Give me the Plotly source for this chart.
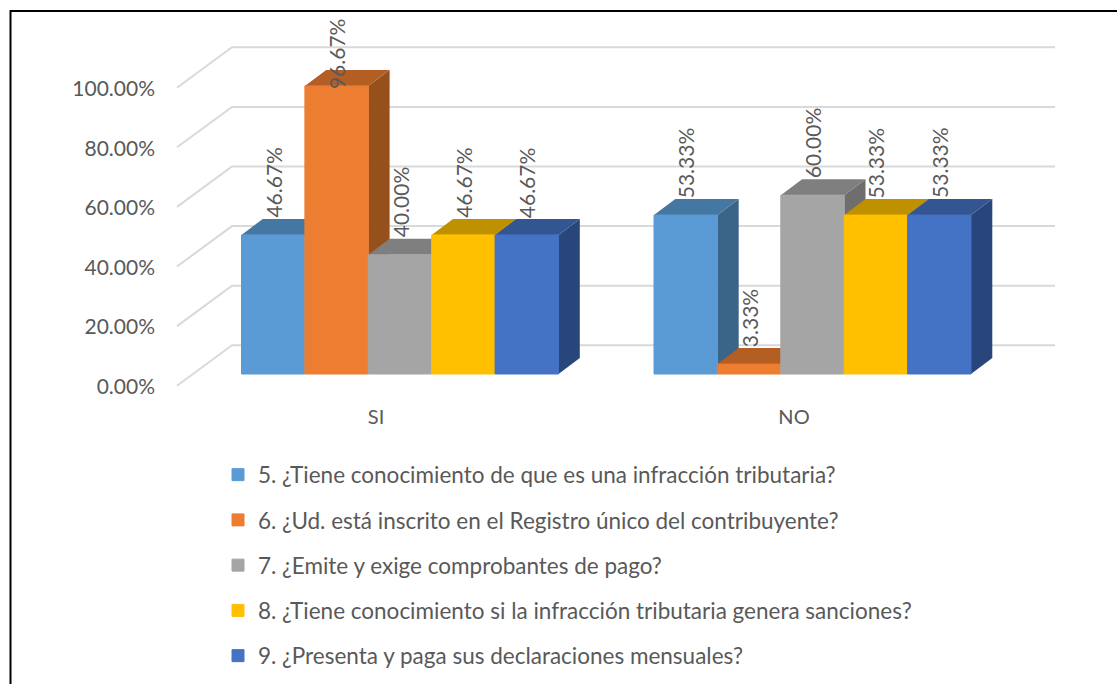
import plotly.graph_objects as go

categories = ["SI", "NO"]
q5 = [46.67, 53.33]
q6 = [96.67, 3.33]
q7 = [40.00, 60.00]
q8 = [46.67, 53.33]
q9 = [46.67, 53.33]
series_values = [q5, q6, q7, q8, q9]
series_names = [
    "5. ¿Tiene conocimiento de que es una infracción tributaria?",
    "6. ¿Ud. está inscrito en el Registro único del contribuyente?",
    "7. ¿Emite y exige comprobantes de pago?",
    "8. ¿Tiene conocimiento si la infracción tributaria genera sanciones?",
    "9. ¿Presenta y paga sus declaraciones mensuales?",
]
front_colors = ["#5B9BD5", "#ED7D31", "#A5A5A5", "#FFC000", "#4472C4"]
top_colors = ["#4577A3", "#B55E24", "#7F7F7F", "#BF9000", "#335693"]
side_colors = ["#3A6588", "#96501C", "#6E6E6E", "#A07800", "#29467C"]
y_ticks = [0, 20, 40, 60, 80, 100]

W, H = 1117, 684
FONT = "Lato"
TXT = "#595959"
PX_X = 412.5      # px per category step
PX_Y = 2.98       # px per percent
X0, Y0 = 400.0, 374.0   # px of first group centre and of the 0% bar base

bar_w = 63.4 / PX_X
depth_x = 21.3 / PX_X
depth_y = 16.0 / PX_Y
x_range = [(0 - X0) / PX_X, (W - X0) / PX_X]
y_range = [(Y0 - H) / PX_Y, Y0 / PX_Y]

wall_x0, wall_x1 = (232 - X0) / PX_X, (1055 - X0) / PX_X
front_x0 = (177 - X0) / PX_X
wall_dy = 28.7 / PX_Y
front_dy = -11.7 / PX_Y
label_cap = 95.3

fig = go.Figure()

# back wall gridlines and left-side diagonals
for t in y_ticks:
    fig.add_trace(go.Scatter(
        x=[front_x0, wall_x0, wall_x1],
        y=[t + front_dy, t + wall_dy, t + wall_dy],
        mode="lines", line=dict(color="#D9D9D9", width=2),
        showlegend=False, hoverinfo="skip"))

# tops and sides, left to right
annotations = []
for g in range(len(categories)):
    for i, vals in enumerate(series_values):
        v = vals[g]
        l = g + (i - 2.5) * bar_w
        r = l + bar_w
        fig.add_trace(go.Scatter(
            x=[r, r + depth_x, r + depth_x, r, r],
            y=[0, depth_y, v + depth_y, v, 0],
            mode="lines", fill="toself", fillcolor=side_colors[i],
            line=dict(width=0), showlegend=False, hoverinfo="skip"))
        fig.add_trace(go.Scatter(
            x=[l, l + depth_x, r + depth_x, r, l],
            y=[v, v + depth_y, v + depth_y, v, v],
            mode="lines", fill="toself", fillcolor=top_colors[i],
            line=dict(width=0), showlegend=False, hoverinfo="skip"))
        annotations.append(dict(
            x=(l + r) / 2, y=min(v + depth_y, label_cap), xref="x", yref="y",
            text=f"{v:.2f}%", textangle=-90, showarrow=False,
            xanchor="center", yanchor="bottom", borderpad=0,
            font=dict(family=FONT, size=21, color=TXT)))

# front faces
for i, vals in enumerate(series_values):
    fig.add_trace(go.Bar(
        x=list(range(len(categories))), y=vals, name=series_names[i],
        width=bar_w, offset=(i - 2.5) * bar_w,
        marker=dict(color=front_colors[i], line=dict(width=1, color=front_colors[i])),
        xaxis="x2", yaxis="y2", legendgroup=f"g{i}"))

# axis that carries the tick labels (front plane of the chart)
fig.add_trace(go.Scatter(x=[0, 1], y=[0, 100], mode="none", showlegend=False,
                         hoverinfo="skip", xaxis="x3", yaxis="y3"))

lab_x0, lab_x1 = 376.0, 794.0
lab_step = lab_x1 - lab_x0
lab_y0 = 386.5
lab_py = 2.975

hidden = dict(visible=False, fixedrange=True)
fig.update_layout(
    width=W, height=H, autosize=False,
    margin=dict(l=0, r=0, t=0, b=0, pad=0),
    paper_bgcolor="white", plot_bgcolor="white",
    barmode="overlay",
    xaxis=dict(range=x_range, domain=[0, 1], **hidden),
    yaxis=dict(range=y_range, domain=[0, 1], **hidden),
    xaxis2=dict(range=x_range, overlaying="x", anchor="y2", **hidden),
    yaxis2=dict(range=y_range, overlaying="y", anchor="x2", **hidden),
    xaxis3=dict(
        range=[(0 - lab_x0) / lab_step, (W - lab_x0) / lab_step],
        overlaying="x", anchor="free", position=1 - 403 / H, side="bottom",
        tickmode="array", tickvals=[0, 1], ticktext=categories,
        showgrid=False, zeroline=False, showline=False, ticks="",
        tickfont=dict(family=FONT, size=20, color=TXT)),
    yaxis3=dict(
        range=[(lab_y0 - H) / lab_py, lab_y0 / lab_py],
        overlaying="y", anchor="free", position=155 / W, side="left",
        tickmode="array", tickvals=y_ticks,
        ticktext=[f"{t:.2f}%" for t in y_ticks],
        showgrid=False, zeroline=False, showline=False, ticks="",
        tickfont=dict(family=FONT, size=21, color=TXT)),
    legend=dict(x=218 / W, y=1 - 677.5 / H, xanchor="left", yanchor="bottom",
                tracegroupgap=13, bgcolor="rgba(0,0,0,0)",
                font=dict(family=FONT, size=22.5, color=TXT)),
    annotations=annotations,
    shapes=[dict(type="path", xref="paper", yref="paper",
                 path=f"M {10.5/W} 0 L {10.5/W} {1-11/H} L 1 {1-11/H}",
                 line=dict(color="black", width=2))],
)
fig.write_html("out.html", config={"displayModeBar": False},
               post_script="document.body.style.margin='0';document.documentElement.style.overflow='hidden';")
